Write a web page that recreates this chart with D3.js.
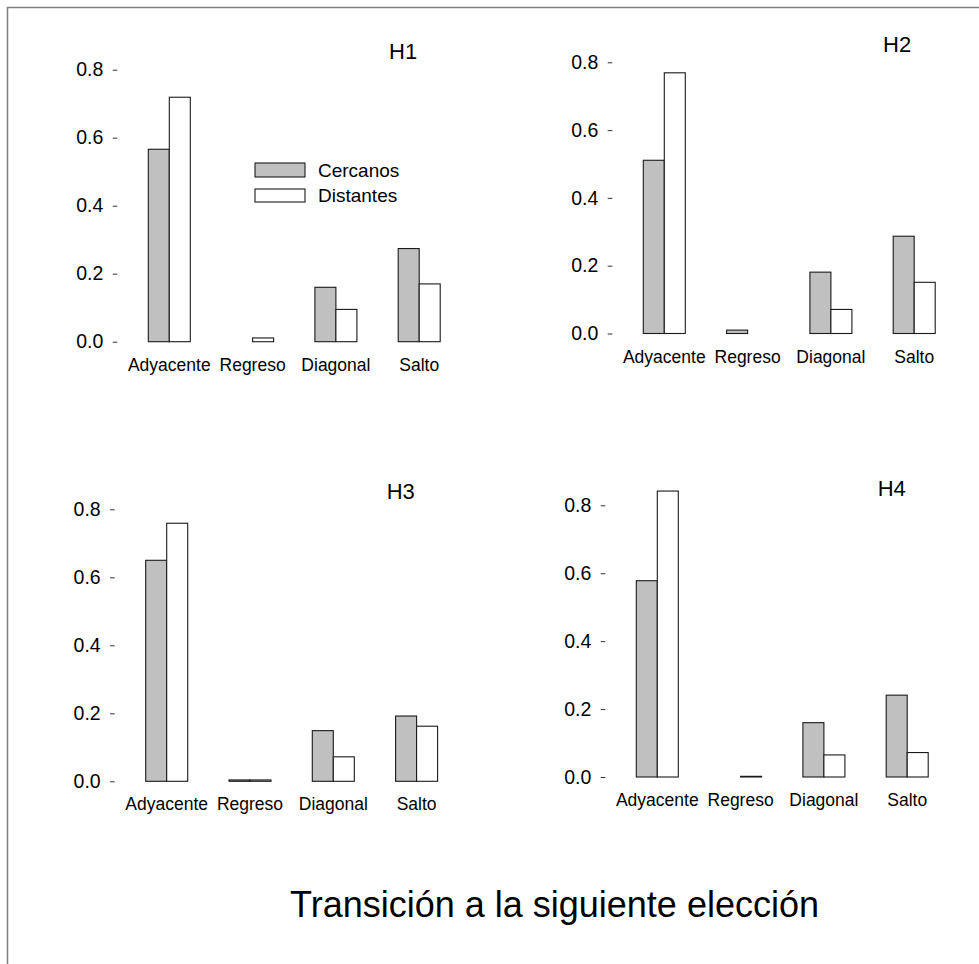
<!DOCTYPE html>
<html>
<head>
<meta charset="utf-8">
<script src="https://cdn.jsdelivr.net/npm/d3@7"></script>
<style>
  html, body { margin: 0; padding: 0; background: #fff; }
  svg { display: block; font-family: "Liberation Sans", Arial, sans-serif; }
</style>
</head>
<body>
<svg id="chart" width="979" height="964"></svg>
<script>
// Transition categories and series
const categories = ["Adyacente", "Regreso", "Diagonal", "Salto"];
const series = ["Cercanos", "Distantes"];
const yTicks = [0, 0.2, 0.4, 0.6, 0.8];

// Proportions per panel
const h1Cercanos  = [0.566, 0.000, 0.160, 0.274];
const h1Distantes = [0.719, 0.011, 0.095, 0.170];
const h2Cercanos  = [0.511, 0.010, 0.181, 0.287];
const h2Distantes = [0.769, 0.000, 0.071, 0.151];
const h3Cercanos  = [0.650, 0.004, 0.149, 0.192];
const h3Distantes = [0.759, 0.004, 0.072, 0.162];
const h4Cercanos  = [0.578, 0.000, 0.160, 0.241];
const h4Distantes = [0.842, 0.002, 0.065, 0.072];

const panelNames = ["H1", "H2", "H3", "H4"];
const panelValues = [
  [h1Cercanos, h1Distantes],
  [h2Cercanos, h2Distantes],
  [h3Cercanos, h3Distantes],
  [h4Cercanos, h4Distantes]
];

// Panel placement on the page
const layout = [
  { axisX: 117.3, y0: 341.7, unit: 340.0, labelX: 389.0, labelY: 59.0 },
  { axisX: 612.3, y0: 333.5, unit: 339.0, labelX: 883.0, labelY: 51.7 },
  { axisX: 114.7, y0: 781.3, unit: 340.0, labelX: 386.7, labelY: 499.0 },
  { axisX: 605.3, y0: 777.0, unit: 339.6, labelX: 877.7, labelY: 495.7 }
];

const fills = { Cercanos: "#c0c0c0", Distantes: "#ffffff" };
const step = 83.3, groupWidth = 42, barGap = 31;

const svg = d3.select("#chart");

// Outer frame (top and left edges)
svg.append("path")
  .attr("d", "M7.5,964V7.5H979")
  .attr("fill", "none")
  .attr("stroke", "#808080")
  .attr("stroke-width", 1.5);

panelNames.forEach((name, i) => {
  const L = layout[i];
  const g = svg.append("g");

  const y = d3.scaleLinear().domain([0, 0.8]).range([L.y0, L.y0 - 0.8 * L.unit]);
  const xStart = L.axisX + barGap;
  const x = d3.scaleBand()
    .domain(categories)
    .range([xStart, xStart + 3 * step + groupWidth])
    .paddingInner(1 - groupWidth / step)
    .paddingOuter(0);
  const xs = d3.scaleBand().domain(series).range([0, x.bandwidth()]);

  // Y axis: short dashes, no spine
  const axis = g.append("g")
    .attr("transform", `translate(${L.axisX},0)`)
    .call(d3.axisLeft(y).tickValues(yTicks).tickFormat(d3.format(".1f"))
      .tickSize(4.6).tickPadding(9.4));
  axis.select(".domain").remove();
  axis.selectAll(".tick line").attr("stroke", "#333").attr("stroke-width", 1);
  axis.selectAll(".tick text")
    .attr("font-size", 19.5)
    .attr("font-family", "'Liberation Sans', Arial, sans-serif")
    .attr("fill", "#000");

  // Bars
  const rows = [];
  categories.forEach((c, ci) => {
    series.forEach((s, si) => {
      rows.push({ category: c, series: s, value: panelValues[i][si][ci] });
    });
  });
  g.selectAll("rect.bar")
    .data(rows)
    .join("rect")
    .attr("class", "bar")
    .attr("x", d => x(d.category) + xs(d.series))
    .attr("width", xs.bandwidth())
    .attr("y", d => y(d.value))
    .attr("height", d => y(0) - y(d.value))
    .attr("fill", d => fills[d.series])
    .attr("stroke", d => d.value === 0 ? "#d0d0d0" : "#1a1a1a")
    .attr("stroke-width", 1.1);

  // Category labels
  g.selectAll("text.cat")
    .data(categories)
    .join("text")
    .attr("class", "cat")
    .attr("x", d => x(d) + x.bandwidth() / 2)
    .attr("y", y(0) + 29)
    .attr("text-anchor", "middle")
    .attr("font-size", 17.5)
    .text(d => d);

  // Panel label
  g.append("text")
    .attr("x", L.labelX)
    .attr("y", L.labelY)
    .attr("font-size", 22)
    .text(name);

  // Legend (first panel only)
  if (i === 0) {
    const legendRows = [
      { s: "Cercanos", y: 163, h: 14, ty: 176.5 },
      { s: "Distantes", y: 189, h: 13, ty: 201.5 }
    ];
    const lg = g.append("g");
    lg.selectAll("rect")
      .data(legendRows)
      .join("rect")
      .attr("x", 255)
      .attr("y", d => d.y)
      .attr("width", 50)
      .attr("height", d => d.h)
      .attr("fill", d => fills[d.s])
      .attr("stroke", "#1a1a1a")
      .attr("stroke-width", 1.1);
    lg.selectAll("text")
      .data(legendRows)
      .join("text")
      .attr("x", 318)
      .attr("y", d => d.ty)
      .attr("font-size", 19)
      .text(d => d.s);
  }
});

// Shared x-axis title
svg.append("text")
  .attr("x", 554.5)
  .attr("y", 916.7)
  .attr("text-anchor", "middle")
  .attr("font-size", 36)
  .text("Transición a la siguiente elección");
</script>
</body>
</html>
